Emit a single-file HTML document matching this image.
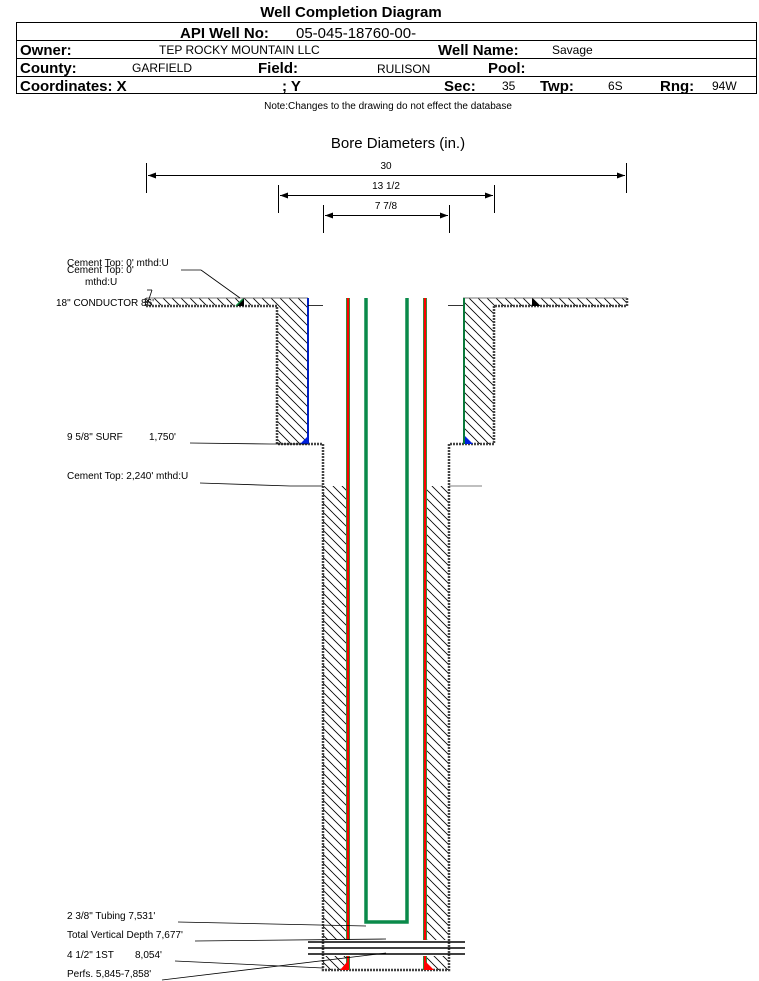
<!DOCTYPE html>
<html><head><meta charset="utf-8"><style>
body{margin:0;background:#fff;}
svg{display:block;font-family:"Liberation Sans",Arial,sans-serif;}
</style></head><body>
<svg width="759" height="981" viewBox="0 0 759 981" xmlns="http://www.w3.org/2000/svg">
<defs>
<pattern id="h" width="9" height="9" patternUnits="userSpaceOnUse">
<path d="M0,0 L9,9 M-9,0 L0,9 M9,0 L18,9 M0,-9 L9,0 M0,9 L9,18" stroke="#000" stroke-width="0.8"/>
</pattern>
</defs>
<text x="351" y="17" font-size="15" font-weight="bold" text-anchor="middle">Well Completion Diagram</text>
<rect x="16.5" y="22.5" width="740" height="71" fill="none" stroke="#000"/>
<line x1="16" y1="40.5" x2="757" y2="40.5" stroke="#000"/>
<line x1="16" y1="58.5" x2="757" y2="58.5" stroke="#000"/>
<line x1="16" y1="76.5" x2="757" y2="76.5" stroke="#000"/>
<g font-size="15" font-weight="bold">
<text x="180" y="38">API Well No:</text>
<text x="20" y="55">Owner:</text><text x="438" y="55">Well Name:</text>
<text x="20" y="73">County:</text><text x="258" y="73">Field:</text><text x="488" y="73">Pool:</text>
<text x="20" y="91">Coordinates: X</text><text x="282" y="91">; Y</text><text x="444" y="91">Sec:</text><text x="540" y="91">Twp:</text><text x="660" y="91">Rng:</text>
</g>
<text x="296" y="38" font-size="15">05-045-18760-00-</text>
<g font-size="12">
<text x="159" y="54">TEP ROCKY MOUNTAIN LLC</text>
<text x="552" y="54">Savage</text>
<text x="132" y="72">GARFIELD</text>
<text x="377" y="73">RULISON</text>
<text x="502" y="90">35</text><text x="608" y="90">6S</text><text x="712" y="90">94W</text>
</g>
<text x="388" y="109" font-size="10" text-anchor="middle">Note:Changes to the drawing do not effect the database</text>
<text x="398" y="148" font-size="15" text-anchor="middle">Bore Diameters (in.)</text>
<g stroke="#000" stroke-width="1" font-size="10">
<line x1="146.5" y1="163" x2="146.5" y2="193"/><line x1="626.5" y1="163" x2="626.5" y2="193"/><line x1="148" y1="175.5" x2="625" y2="175.5"/>
<line x1="278.5" y1="185" x2="278.5" y2="213"/><line x1="494.5" y1="185" x2="494.5" y2="213"/><line x1="280" y1="195.5" x2="493" y2="195.5"/>
<line x1="323.5" y1="205" x2="323.5" y2="233"/><line x1="449.5" y1="205" x2="449.5" y2="233"/><line x1="325" y1="215.5" x2="448" y2="215.5"/>
</g>
<g fill="#000">
<path d="M148,175.5 l8,-3 v6z"/><path d="M625,175.5 l-8,-3 v6z"/>
<path d="M280,195.5 l8,-3 v6z"/><path d="M493,195.5 l-8,-3 v6z"/>
<path d="M325,215.5 l8,-3 v6z"/><path d="M448,215.5 l-8,-3 v6z"/>
</g>
<g font-size="10" text-anchor="middle"><text x="386" y="169">30</text><text x="386" y="189">13 1/2</text><text x="386" y="209">7 7/8</text></g>
<g fill="url(#h)" stroke="none">
<rect x="146" y="298" width="162" height="8"/>
<rect x="463" y="298" width="164" height="8"/>
<rect x="277" y="306" width="31" height="138"/>
<rect x="463" y="306" width="31" height="138"/>
<rect x="323" y="486" width="24" height="454"/>
<rect x="425" y="486" width="24" height="454"/>
<rect x="323" y="956" width="24" height="14"/>
<rect x="425" y="956" width="24" height="14"/>
</g>
<g fill="none" stroke="#444" stroke-width="2.5" stroke-dasharray="2 1">
<path d="M146,306 H277 V444 H323 V970 H449 V444 H494 V306 H627"/>
<path d="M146,298 V306 M627,298 V306"/>
</g>
<line x1="146" y1="298" x2="308" y2="298" stroke="#777"/>
<line x1="463" y1="298" x2="627" y2="298" stroke="#777"/>
<line x1="308" y1="298" x2="308" y2="444" stroke="#0020c0" stroke-width="2"/>
<line x1="464" y1="298" x2="464" y2="444" stroke="#0a7a3a" stroke-width="2"/>
<path d="M300,444 L308,436 V444Z" fill="#0020e0"/>
<path d="M465,436 L473,444 H465Z" fill="#0020e0"/>
<path d="M236,306 L244,298 V306Z" fill="#000"/><path d="M236,306 L243,299" stroke="#0a8a3a" stroke-width="1.5"/>
<path d="M532,298 L540,306 H532Z" fill="#000"/>
<g stroke-width="4">
<line x1="348" y1="298" x2="348" y2="940" stroke="#3a8a3a"/>
<line x1="425" y1="298" x2="425" y2="940" stroke="#3a8a3a"/>
<line x1="348" y1="956" x2="348" y2="970" stroke="#3a8a3a"/>
<line x1="425" y1="956" x2="425" y2="970" stroke="#3a8a3a"/>
</g>
<g stroke="#ff0000" stroke-width="2">
<line x1="348" y1="298" x2="348" y2="940"/><line x1="425" y1="298" x2="425" y2="940"/>
<line x1="348" y1="956" x2="348" y2="970"/><line x1="425" y1="956" x2="425" y2="970"/>
</g>
<path d="M340,970 L347,962 V970Z" fill="#ff0000"/><path d="M426,962 L434,970 H426Z" fill="#ff0000"/>
<path d="M366,298 V922 H407 V298" fill="none" stroke="#0a8a4a" stroke-width="3.5"/>
<g stroke="#000" stroke-width="1.6">
<line x1="308" y1="942" x2="465" y2="942"/><line x1="308" y1="948" x2="465" y2="948"/><line x1="308" y1="954" x2="465" y2="954"/>
</g>
<g stroke="#000" stroke-width="0.8" fill="none">
<line x1="181" y1="270" x2="201" y2="270"/><line x1="201" y1="270" x2="240" y2="298"/>
<line x1="147" y1="290" x2="152" y2="290"/><line x1="152" y1="290" x2="148" y2="302"/>
<line x1="308" y1="305.5" x2="323" y2="305.5"/><line x1="463" y1="305.5" x2="448" y2="305.5"/>
<line x1="190" y1="443" x2="270" y2="444"/><line x1="270" y1="444" x2="308" y2="444"/>
<line x1="200" y1="483" x2="290" y2="486"/><line x1="290" y1="486" x2="323" y2="486"/>
<line x1="449" y1="486" x2="482" y2="486" stroke="#555"/>
<line x1="178" y1="922" x2="366" y2="926"/>
<line x1="195" y1="941" x2="386" y2="939"/>
<line x1="175" y1="961" x2="323" y2="968"/>
<line x1="162" y1="980" x2="386" y2="953"/>
</g>
<g font-size="10">
<text x="67" y="266">Cement Top: 0' mthd:U</text>
<text x="67" y="273">Cement Top: 0'</text>
<text x="85" y="285">mthd:U</text>
<text x="56" y="306">18" CONDUCTOR  86'</text>
<text x="67" y="440">9 5/8" SURF</text><text x="149" y="440">1,750'</text>
<text x="67" y="479">Cement Top: 2,240' mthd:U</text>
<text x="67" y="919">2 3/8" Tubing 7,531'</text>
<text x="67" y="938">Total Vertical Depth 7,677'</text>
<text x="67" y="958">4 1/2" 1ST</text><text x="135" y="958">8,054'</text>
<text x="67" y="977">Perfs. 5,845-7,858'</text>
</g>
</svg>
</body></html>
